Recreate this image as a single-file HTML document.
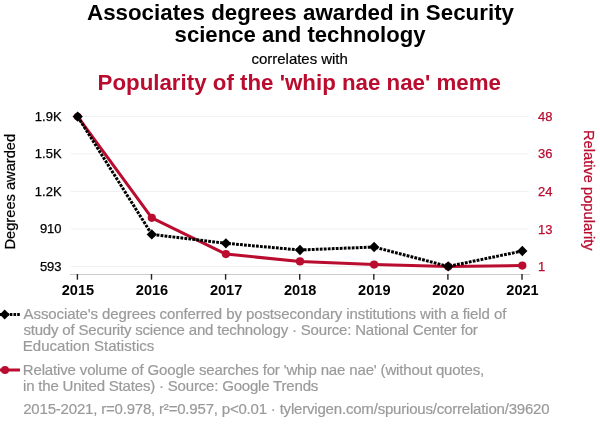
<!DOCTYPE html>
<html><head><meta charset="utf-8">
<style>
html,body{margin:0;padding:0;background:#fff;}
svg{display:block;}
text{font-family:"Liberation Sans",sans-serif;}
</style></head><body>
<svg width="600" height="430" viewBox="0 0 600 430">
<rect width="600" height="430" fill="#fff"/>
<text x="87.0" y="19.7" font-size="22.4" font-weight="bold" fill="#000" textLength="427.0" lengthAdjust="spacingAndGlyphs">Associates degrees awarded in Security</text>
<text x="174.6" y="41.8" font-size="22.4" font-weight="bold" fill="#000" textLength="250.9" lengthAdjust="spacingAndGlyphs">science and technology</text>
<text x="251.6" y="63.7" font-size="15" stroke="#000" stroke-width="0.2" fill="#000" textLength="96.2" lengthAdjust="spacing">correlates with</text>
<text x="97.5" y="89.7" font-size="22.4" font-weight="bold" fill="#ba0c2f" textLength="403.5" lengthAdjust="spacingAndGlyphs">Popularity of the 'whip nae nae' meme</text>
<g stroke="#efefef" stroke-width="1">
<line x1="71" x2="528" y1="116.30" y2="116.30"/>
<line x1="71" x2="528" y1="153.85" y2="153.85"/>
<line x1="71" x2="528" y1="191.40" y2="191.40"/>
<line x1="71" x2="528" y1="228.95" y2="228.95"/>
<line x1="71" x2="528" y1="266.50" y2="266.50"/>
</g>
<line x1="70" x2="529.8" y1="274.5" y2="274.5" stroke="#ccc" stroke-width="1"/>
<g stroke="#222" stroke-width="1.4">
<line x1="77.40" x2="77.40" y1="274" y2="279.7"/>
<line x1="151.50" x2="151.50" y1="274" y2="279.7"/>
<line x1="225.60" x2="225.60" y1="274" y2="279.7"/>
<line x1="299.70" x2="299.70" y1="274" y2="279.7"/>
<line x1="373.80" x2="373.80" y1="274" y2="279.7"/>
<line x1="447.90" x2="447.90" y1="274" y2="279.7"/>
<line x1="522.00" x2="522.00" y1="274" y2="279.7"/>
</g>
<g font-size="13" text-anchor="end" fill="#000" stroke="#000" stroke-width="0.25">
<text x="61.6" y="120.80">1.9K</text>
<text x="61.6" y="158.35">1.5K</text>
<text x="61.6" y="195.90">1.2K</text>
<text x="61.6" y="233.45">910</text>
<text x="61.6" y="271.00">593</text>
</g>
<g font-size="13" text-anchor="start" fill="#ba0c2f" stroke="#ba0c2f" stroke-width="0.25">
<text x="538" y="120.90">48</text>
<text x="538" y="158.45">36</text>
<text x="538" y="196.00">24</text>
<text x="538" y="233.55">13</text>
<text x="538" y="271.10">1</text>
</g>
<text x="61.7" y="294.7" font-size="15.3" font-weight="bold" fill="#000" textLength="32.4" lengthAdjust="spacingAndGlyphs">2015</text>
<text x="135.8" y="294.7" font-size="15.3" font-weight="bold" fill="#000" textLength="32.4" lengthAdjust="spacingAndGlyphs">2016</text>
<text x="209.9" y="294.7" font-size="15.3" font-weight="bold" fill="#000" textLength="32.4" lengthAdjust="spacingAndGlyphs">2017</text>
<text x="284.0" y="294.7" font-size="15.3" font-weight="bold" fill="#000" textLength="32.4" lengthAdjust="spacingAndGlyphs">2018</text>
<text x="358.1" y="294.7" font-size="15.3" font-weight="bold" fill="#000" textLength="32.4" lengthAdjust="spacingAndGlyphs">2019</text>
<text x="432.2" y="294.7" font-size="15.3" font-weight="bold" fill="#000" textLength="32.4" lengthAdjust="spacingAndGlyphs">2020</text>
<text x="506.3" y="294.7" font-size="15.3" font-weight="bold" fill="#000" textLength="32.4" lengthAdjust="spacingAndGlyphs">2021</text>
<text transform="translate(15.3,191.7) rotate(-90)" font-size="15" text-anchor="middle" fill="#000" stroke="#000" stroke-width="0.25" textLength="115.7" lengthAdjust="spacingAndGlyphs">Degrees awarded</text>
<text transform="translate(584,190.3) rotate(90)" font-size="15.3" text-anchor="middle" fill="#ba0c2f" stroke="#ba0c2f" stroke-width="0.25" textLength="120.6" lengthAdjust="spacingAndGlyphs">Relative popularity</text>
<polyline fill="none" stroke="#ba0c2f" stroke-width="3" stroke-linejoin="round" points="77.70,116.6 151.80,217.8 225.90,254.1 300.00,261.4 374.10,264.6 448.20,266.5 522.30,265.6"/>
<g fill="#ba0c2f">
<circle cx="77.70" cy="116.6" r="3.9"/>
<circle cx="151.80" cy="217.8" r="4.1"/>
<circle cx="225.90" cy="254.1" r="4.1"/>
<circle cx="300.00" cy="261.4" r="4.1"/>
<circle cx="374.10" cy="264.6" r="4.1"/>
<circle cx="448.20" cy="266.5" r="4.1"/>
<circle cx="522.30" cy="265.6" r="4.1"/>
</g>
<polyline fill="none" stroke="#000" stroke-width="3" stroke-dasharray="2.8,1.2" points="77.70,116.6 151.80,234.4 225.90,243.3 300.00,250 374.10,247 448.20,266.4 522.30,251"/>
<g fill="#000">
<path d="M77.70 111.44999999999999l5.15 5.15-5.15 5.15-5.15-5.15z"/>
<path d="M151.80 229.25l5.15 5.15-5.15 5.15-5.15-5.15z"/>
<path d="M225.90 238.15l5.15 5.15-5.15 5.15-5.15-5.15z"/>
<path d="M300.00 244.85l5.15 5.15-5.15 5.15-5.15-5.15z"/>
<path d="M374.10 241.85l5.15 5.15-5.15 5.15-5.15-5.15z"/>
<path d="M448.20 261.25l5.15 5.15-5.15 5.15-5.15-5.15z"/>
<path d="M522.30 245.85l5.15 5.15-5.15 5.15-5.15-5.15z"/>
</g>
<line x1="-1.3" x2="19.8" y1="314.500" y2="314.500" stroke="#000" stroke-width="3" stroke-dasharray="2.6,1.1"/>
<path d="M4.7 309.500l5 5-5 5-5-5z" fill="#000"/>
<text x="23.6" y="318.7" font-size="15" stroke="#9a9a9a" stroke-width="0.2" fill="#9a9a9a" textLength="482.7" lengthAdjust="spacing">Associate's degrees conferred by postsecondary institutions with a field of</text>
<text x="23.4" y="334.7" font-size="15" stroke="#9a9a9a" stroke-width="0.2" fill="#9a9a9a" textLength="454.4" lengthAdjust="spacing">study of Security science and technology · Source: National Center for</text>
<text x="22.8" y="350.7" font-size="15" stroke="#9a9a9a" stroke-width="0.2" fill="#9a9a9a" textLength="131.5" lengthAdjust="spacing">Education Statistics</text>
<text x="22.8" y="374.7" font-size="15" stroke="#9a9a9a" stroke-width="0.2" fill="#9a9a9a" textLength="461.4" lengthAdjust="spacing">Relative volume of Google searches for 'whip nae nae' (without quotes,</text>
<text x="23.0" y="390.7" font-size="15" stroke="#9a9a9a" stroke-width="0.2" fill="#9a9a9a" textLength="295.3" lengthAdjust="spacing">in the United States) · Source: Google Trends</text>
<text x="23.2" y="413.7" font-size="15" stroke="#9a9a9a" stroke-width="0.2" fill="#9a9a9a" textLength="526.4" lengthAdjust="spacing">2015-2021, r=0.978, r²=0.957, p&lt;0.01 · tylervigen.com/spurious/correlation/39620</text>
<line x1="0" x2="20" y1="370" y2="370" stroke="#ba0c2f" stroke-width="3"/>
<circle cx="5" cy="370" r="4" fill="#ba0c2f"/>
</svg>
</body></html>
